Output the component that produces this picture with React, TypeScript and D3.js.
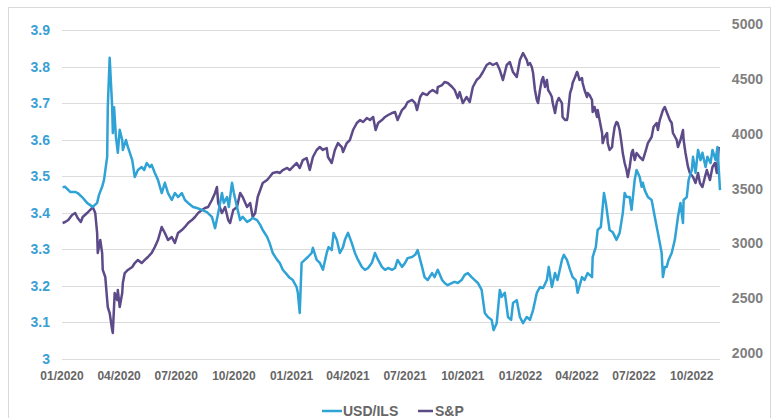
import React from "react";
import * as d3 from "d3";

const ilsDates = [
  "2020-01-02","2020-01-06","2020-01-14","2020-01-22","2020-01-26","2020-02-02","2020-02-10","2020-02-15","2020-02-19","2020-02-26",
  "2020-02-29","2020-03-05","2020-03-08","2020-03-13","2020-03-14","2020-03-17","2020-03-21","2020-03-22","2020-03-24","2020-03-27",
  "2020-03-30","2020-04-02","2020-04-06","2020-04-07","2020-04-12","2020-04-15","2020-04-22","2020-04-26","2020-05-01","2020-05-07",
  "2020-05-11","2020-05-15","2020-05-20","2020-05-23","2020-05-28","2020-06-02","2020-06-08","2020-06-13","2020-06-18","2020-06-24",
  "2020-06-29","2020-07-04","2020-07-10","2020-07-15","2020-07-20","2020-07-28","2020-08-03","2020-08-11","2020-08-19","2020-08-27",
  "2020-09-01","2020-09-06","2020-09-12","2020-09-15","2020-09-20","2020-09-23","2020-09-28","2020-10-01","2020-10-06","2020-10-11",
  "2020-10-15","2020-10-22","2020-10-27","2020-10-31","2020-11-07","2020-11-12","2020-11-16","2020-11-23","2020-11-27","2020-12-02",
  "2020-12-09","2020-12-13","2020-12-18","2020-12-25","2020-12-29","2021-01-03","2021-01-09","2021-01-11","2021-01-14","2021-01-17",
  "2021-01-22","2021-01-27","2021-02-02","2021-02-04","2021-02-10","2021-02-15","2021-02-20","2021-02-26","2021-03-01","2021-03-06",
  "2021-03-09","2021-03-14","2021-03-19","2021-03-24","2021-03-27","2021-04-01","2021-04-07","2021-04-12","2021-04-17","2021-04-23",
  "2021-04-28","2021-05-03","2021-05-09","2021-05-14","2021-05-19","2021-05-25","2021-05-30","2021-06-04","2021-06-10","2021-06-15",
  "2021-06-19","2021-06-26","2021-07-01","2021-07-05","2021-07-12","2021-07-17","2021-07-21","2021-07-28","2021-08-01","2021-08-06",
  "2021-08-13","2021-08-17","2021-08-22","2021-08-29","2021-09-02","2021-09-07","2021-09-14","2021-09-18","2021-09-23","2021-09-29",
  "2021-10-04","2021-10-09","2021-10-15","2021-10-20","2021-10-25","2021-10-31","2021-11-05","2021-11-10","2021-11-16","2021-11-19",
  "2021-11-24","2021-11-29","2021-12-02","2021-12-07","2021-12-12","2021-12-17","2021-12-20","2021-12-26","2021-12-31","2022-01-05",
  "2022-01-11","2022-01-16","2022-01-21","2022-01-27","2022-02-01","2022-02-06","2022-02-12","2022-02-15","2022-02-20","2022-02-25",
  "2022-03-01","2022-03-08","2022-03-11","2022-03-16","2022-03-21","2022-03-25","2022-03-30","2022-04-02","2022-04-09","2022-04-13",
  "2022-04-18","2022-04-25","2022-04-26","2022-05-01","2022-05-04","2022-05-09","2022-05-12","2022-05-14","2022-05-17","2022-05-20",
  "2022-05-23","2022-05-28","2022-06-03","2022-06-08","2022-06-13","2022-06-16","2022-06-19","2022-06-24","2022-06-27","2022-07-02",
  "2022-07-05","2022-07-10","2022-07-13","2022-07-15","2022-07-18","2022-07-23","2022-07-29","2022-08-03","2022-08-08","2022-08-14",
  "2022-08-16","2022-08-19","2022-08-22","2022-08-25","2022-08-30","2022-09-04","2022-09-09","2022-09-13","2022-09-17","2022-09-18",
  "2022-09-23","2022-09-26","2022-10-01","2022-10-03","2022-10-07","2022-10-11","2022-10-15","2022-10-18","2022-10-23","2022-10-26",
  "2022-10-31","2022-11-03","2022-11-08","2022-11-11","2022-11-15",
];
const ilsValues = [
  3.47,3.471,3.457,3.457,3.454,3.443,3.427,3.421,3.416,3.427,
  3.449,3.471,3.49,3.553,3.689,3.824,3.689,3.618,3.689,3.607,
  3.564,3.627,3.599,3.572,3.599,3.58,3.544,3.498,3.517,3.525,
  3.517,3.536,3.525,3.531,3.509,3.49,3.454,3.482,3.454,3.435,
  3.454,3.443,3.454,3.435,3.427,3.416,3.413,3.408,3.402,3.389,
  3.358,3.399,3.454,3.427,3.443,3.416,3.482,3.454,3.416,3.38,
  3.389,3.375,3.38,3.386,3.38,3.367,3.353,3.334,3.317,3.29,
  3.271,3.263,3.244,3.23,3.222,3.216,3.197,3.181,3.126,3.263,
  3.271,3.279,3.29,3.304,3.271,3.263,3.244,3.29,3.306,3.298,
  3.345,3.326,3.29,3.306,3.326,3.345,3.317,3.29,3.271,3.252,
  3.244,3.249,3.263,3.29,3.271,3.252,3.244,3.249,3.244,3.249,
  3.271,3.252,3.263,3.276,3.279,3.285,3.298,3.252,3.224,3.216,
  3.235,3.224,3.244,3.216,3.208,3.202,3.208,3.211,3.208,3.216,
  3.23,3.235,3.224,3.216,3.208,3.189,3.126,3.115,3.107,3.079,
  3.098,3.189,3.17,3.181,3.115,3.107,3.153,3.161,3.115,3.098,
  3.115,3.107,3.134,3.181,3.197,3.194,3.216,3.252,3.197,3.235,
  3.216,3.271,3.285,3.271,3.244,3.224,3.216,3.181,3.224,3.216,
  3.235,3.224,3.279,3.306,3.353,3.361,3.416,3.454,3.427,3.389,
  3.353,3.347,3.326,3.345,3.399,3.454,3.443,3.443,3.408,3.49,
  3.517,3.498,3.471,3.482,3.462,3.443,3.435,3.389,3.345,3.29,
  3.224,3.252,3.252,3.271,3.29,3.326,3.389,3.427,3.372,3.435,
  3.443,3.49,3.517,3.553,3.509,3.572,3.544,3.564,3.525,3.553,
  3.536,3.572,3.544,3.58,3.462,
];

const spxDates = [
  "2020-01-02","2020-01-06","2020-01-11","2020-01-17","2020-01-22","2020-01-26","2020-01-31","2020-02-03","2020-02-10","2020-02-15",
  "2020-02-19","2020-02-23","2020-02-26","2020-02-27","2020-03-02","2020-03-05","2020-03-06","2020-03-10","2020-03-13","2020-03-14",
  "2020-03-17","2020-03-21","2020-03-22","2020-03-25","2020-03-29","2020-03-30","2020-04-02","2020-04-06","2020-04-07","2020-04-10",
  "2020-04-15","2020-04-22","2020-04-26","2020-05-01","2020-05-07","2020-05-12","2020-05-17","2020-05-23","2020-05-28","2020-06-02",
  "2020-06-08","2020-06-13","2020-06-18","2020-06-24","2020-06-29","2020-07-04","2020-07-10","2020-07-15","2020-07-20","2020-07-26",
  "2020-07-31","2020-08-05","2020-08-11","2020-08-16","2020-08-21","2020-08-27","2020-09-01","2020-09-04","2020-09-06","2020-09-12",
  "2020-09-17","2020-09-22","2020-09-25","2020-09-30","2020-10-06","2020-10-11","2020-10-15","2020-10-22","2020-10-27","2020-10-31",
  "2020-11-04","2020-11-08","2020-11-12","2020-11-16","2020-11-23","2020-11-27","2020-12-02","2020-12-09","2020-12-13","2020-12-18",
  "2020-12-25","2020-12-29","2021-01-03","2021-01-09","2021-01-14","2021-01-19","2021-01-25","2021-01-30","2021-02-04","2021-02-10",
  "2021-02-15","2021-02-20","2021-02-26","2021-02-28","2021-03-06","2021-03-11","2021-03-16","2021-03-22","2021-03-24","2021-03-30",
  "2021-04-04","2021-04-09","2021-04-15","2021-04-20","2021-04-25","2021-05-01","2021-05-06","2021-05-11","2021-05-15","2021-05-19",
  "2021-05-25","2021-05-30","2021-06-04","2021-06-10","2021-06-15","2021-06-19","2021-06-26","2021-07-01","2021-07-05","2021-07-12",
  "2021-07-17","2021-07-20","2021-07-25","2021-07-29","2021-08-05","2021-08-09","2021-08-14","2021-08-21","2021-08-22","2021-08-29",
  "2021-09-02","2021-09-07","2021-09-14","2021-09-18","2021-09-23","2021-09-26","2021-10-01","2021-10-07","2021-10-12","2021-10-17",
  "2021-10-23","2021-10-28","2021-11-02","2021-11-08","2021-11-13","2021-11-18","2021-11-24","2021-11-29","2021-12-04","2021-12-10",
  "2021-12-15","2021-12-20","2021-12-26","2021-12-31","2022-01-05","2022-01-11","2022-01-13","2022-01-16","2022-01-19","2022-01-21",
  "2022-01-24","2022-01-27","2022-01-29","2022-02-01","2022-02-04","2022-02-06","2022-02-09","2022-02-12","2022-02-14","2022-02-17",
  "2022-02-20","2022-02-21","2022-02-25","2022-02-28","2022-03-03","2022-03-08","2022-03-09","2022-03-13","2022-03-16","2022-03-17",
  "2022-03-21","2022-03-24","2022-03-25","2022-03-29","2022-04-01","2022-04-02","2022-04-05","2022-04-09","2022-04-10","2022-04-13",
  "2022-04-17","2022-04-18","2022-04-21","2022-04-25","2022-04-26","2022-04-29","2022-05-03","2022-05-04","2022-05-07","2022-05-11",
  "2022-05-12","2022-05-15","2022-05-19","2022-05-20","2022-05-23","2022-05-27","2022-05-28","2022-05-31","2022-06-03","2022-06-05",
  "2022-06-08","2022-06-11","2022-06-13","2022-06-16","2022-06-19","2022-06-21","2022-06-24","2022-06-27","2022-06-29","2022-07-02",
  "2022-07-05","2022-07-10","2022-07-15","2022-07-20","2022-07-23","2022-07-29","2022-08-01","2022-08-06","2022-08-08","2022-08-11",
  "2022-08-16","2022-08-19","2022-08-22","2022-08-27","2022-08-30","2022-09-01","2022-09-07","2022-09-09","2022-09-13","2022-09-17",
  "2022-09-18","2022-09-21","2022-09-25","2022-09-28","2022-10-03","2022-10-07","2022-10-11","2022-10-14","2022-10-18","2022-10-22",
  "2022-10-25","2022-10-30","2022-11-03","2022-11-07","2022-11-10","2022-11-13",
];
const spxValues = [
  3240,3249,3267,3313,3331,3286,3249,3295,3331,3359,
  3386,3331,3149,2967,3085,2967,2812,2748,2538,2474,
  2419,2264,2237,2602,2538,2629,2474,2602,2693,2784,
  2812,2839,2875,2903,2875,2903,2930,2967,3021,3085,
  3204,3149,3085,3112,3058,3149,3176,3204,3240,3267,
  3295,3331,3359,3377,3386,3450,3514,3568,3422,3331,
  3386,3267,3240,3359,3386,3514,3477,3386,3422,3295,
  3331,3477,3541,3605,3632,3659,3696,3705,3696,3723,
  3742,3723,3751,3787,3742,3814,3833,3723,3842,3906,
  3933,3906,3924,3842,3787,3906,3969,3933,3887,3969,
  3997,4088,4152,4179,4161,4197,4179,4207,4088,4152,
  4179,4207,4225,4243,4252,4179,4270,4298,4343,4362,
  4334,4270,4389,4425,4407,4434,4453,4425,4480,4498,
  4526,4517,4480,4453,4380,4434,4334,4389,4343,4480,
  4544,4571,4617,4681,4699,4681,4699,4635,4544,4681,
  4708,4617,4571,4726,4790,4726,4681,4699,4662,4608,
  4453,4362,4334,4453,4544,4571,4480,4544,4453,4425,
  4389,4343,4243,4343,4380,4334,4207,4179,4179,4207,
  4425,4480,4517,4571,4617,4608,4544,4562,4517,4453,
  4389,4425,4407,4362,4252,4298,4207,4270,4179,4061,
  3969,4024,4061,3969,3906,3933,3997,4115,4161,4152,
  4088,3969,3878,3787,3723,3659,3751,3878,3906,3814,
  3878,3842,3814,3906,3969,4024,4115,4152,4088,4179,
  4270,4298,4252,4179,4152,4061,3997,3933,3997,4088,
  3997,3878,3751,3696,3659,3605,3696,3605,3568,3659,
  3723,3632,3751,3787,3696,3933,
];

const xTickDates = [
  "2020-01-01","2020-04-01","2020-07-01","2020-10-01","2021-01-01","2021-04-01",
  "2021-07-01","2021-10-01","2022-01-01","2022-04-01","2022-07-01","2022-10-01",
];
const leftTicks = [3, 3.1, 3.2, 3.3, 3.4, 3.5, 3.6, 3.7, 3.8, 3.9];
const rightTicks = [2000, 2500, 3000, 3500, 4000, 4500, 5000];
const seriesNames = ["USD/ILS", "S&P"];
const seriesColors = ["#2fa2d6", "#5c4a89"];

const W = 775;
const H = 418;
const parse = d3.timeParse("%Y-%m-%d");
const fmt = d3.timeFormat("%m/%Y");

export default function App() {
  const x = d3
    .scaleTime()
    .domain([parse("2020-01-01") as Date, parse("2022-11-15") as Date])
    .range([62, 720]);
  const yL = d3.scaleLinear().domain([3, 3.9]).range([359, 30]);
  const yR = d3.scaleLinear().domain([2000, 5000]).range([359, 30]);

  const ils = ilsDates
    .slice(0, Math.min(ilsDates.length, ilsValues.length))
    .map((d, i) => [parse(d) as Date, ilsValues[i]] as [Date, number]);
  const spx = spxDates
    .slice(0, Math.min(spxDates.length, spxValues.length))
    .map((d, i) => [parse(d) as Date, spxValues[i]] as [Date, number]);

  const lineL = d3
    .line<[Date, number]>()
    .x((d) => x(d[0]))
    .y((d) => yL(d[1]));
  const lineR = d3
    .line<[Date, number]>()
    .x((d) => x(d[0]))
    .y((d) => yR(d[1]));

  const font = "'Liberation Sans', Arial, sans-serif";

  return (
    <svg
      width={W}
      height={H}
      style={{ position: "absolute", left: 0, top: 0, background: "#fff" }}
    >
      <rect x={8.5} y={7.5} width={762} height={430} fill="#fff" stroke="#d9d9d9" strokeWidth={1} />
      {leftTicks.map((t) => (
        <line
          key={"g" + t}
          x1={62}
          x2={720}
          y1={Math.round(yL(t)) + 0.5}
          y2={Math.round(yL(t)) + 0.5}
          stroke="#dcdcdc"
          strokeWidth={1.2}
        />
      ))}
      {leftTicks.map((t) => (
        <text
          key={"l" + t}
          x={50}
          y={yL(t)}
          dy="0.36em"
          textAnchor="end"
          fontFamily={font}
          fontWeight="bold"
          fontSize={14}
          fill="#3a9fd4"
        >
          {String(t)}
        </text>
      ))}
      {rightTicks.map((t) => (
        <text
          key={"r" + t}
          x={763}
          y={yR(t) - 6}
          dy="0.36em"
          textAnchor="end"
          fontFamily={font}
          fontWeight="bold"
          fontSize={14}
          fill="#7f7f7f"
        >
          {String(t)}
        </text>
      ))}
      {xTickDates.map((d) => (
        <text
          key={"x" + d}
          x={x(parse(d) as Date)}
          y={380}
          textAnchor="middle"
          fontFamily={font}
          fontWeight="bold"
          fontSize={12}
          fill="#666"
        >
          {fmt(parse(d) as Date)}
        </text>
      ))}
      <path d={lineR(spx) || ""} fill="none" stroke={seriesColors[1]} strokeWidth={2.5} strokeLinejoin="round" />
      <path d={lineL(ils) || ""} fill="none" stroke={seriesColors[0]} strokeWidth={2.5} strokeLinejoin="round" />
      <g fontFamily={font} fontWeight="bold" fontSize={14} fill="#666">
        <line x1={322} x2={342} y1={411} y2={411} stroke={seriesColors[0]} strokeWidth={2.5} />
        <text x={343} y={416}>{seriesNames[0]}</text>
        <line x1={418} x2={433} y1={411} y2={411} stroke={seriesColors[1]} strokeWidth={2.5} />
        <text x={435} y={416}>{seriesNames[1]}</text>
      </g>
    </svg>
  );
}
